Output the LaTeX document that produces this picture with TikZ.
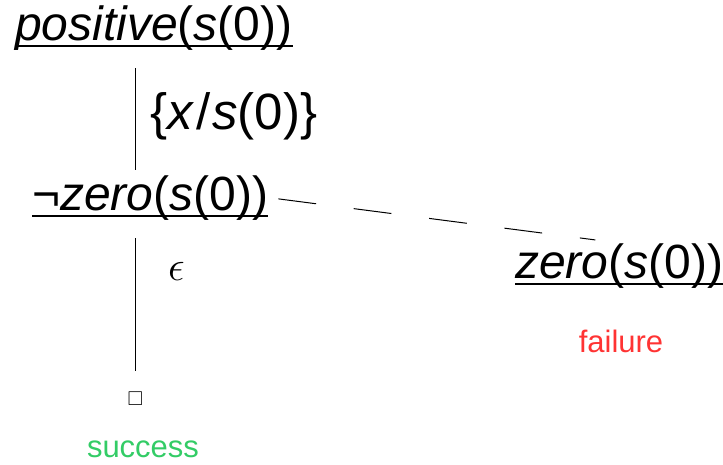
\RequirePackage{fix-cm}
\documentclass[tikz,border=0pt]{standalone}
\usepackage{amssymb}
\usepackage{fontspec}
\setmainfont{Liberation Sans}
\definecolor{failred}{RGB}{255,51,51}
\definecolor{succgreen}{RGB}{51,204,102}
\tikzset{
  term/.style={inner sep=0pt, anchor=base west, font=\fontsize{48}{58}\selectfont},
  note/.style={inner sep=0pt, anchor=base, font=\fontsize{31}{37}\selectfont},
  ul/.style={line width=2pt},
  edge/.style={line width=1pt},
}
\newcommand{\fn}[1]{\textit{#1}}

\begin{document}
\begin{tikzpicture}[x=1pt,y=-1pt]
\useasboundingbox (0,0) rectangle (723,464);
  % Goal and its resolvent
  \node[term] (pos)  at (15,40)  {\fn{positive}(\fn{s}(0))};
  \node[term] (neg)  at (32,210) {¬\fn{zero}(\fn{s}(0))};
  % Failed branch
  \node[term] (zero) at (515,278) {\fn{zero}(\fn{s}(0))};
  \node[note, text=failred] (fail) at (621,352) {failure};
  % Empty clause
  \node[inner sep=0pt, font=\fontsize{20}{24}\selectfont] (box) at (135.5,399) {$\square$};
  \node[note, text=succgreen] (succ) at (143,457) {success};

  \foreach \t in {pos,neg,zero}
    \draw[ul] ([yshift=-6pt]\t.base west) -- ([yshift=-6pt]\t.base east);

  \draw[edge, shorten <=18pt, shorten >=5pt] (box |- pos.south) --
    node[right=14pt, yshift=-4pt, inner sep=0pt, font=\fontsize{51}{60}\selectfont]
      {\{\fn{x}\kern2pt/\kern2pt\fn{s}(0)\}} (box |- neg.north);
  \draw[edge, shorten <=18pt, shorten >=21pt] (box |- neg.south) --
    node[pos=0.3, right=32pt, inner sep=0pt, font=\fontsize{42}{50}\selectfont]
      {$\epsilon$} (box.north);
  \draw[edge, dash pattern=on 38pt off 38pt, shorten <=10pt, shorten >=24pt]
    (neg.east) -- (zero.north);
\end{tikzpicture}
\end{document}
